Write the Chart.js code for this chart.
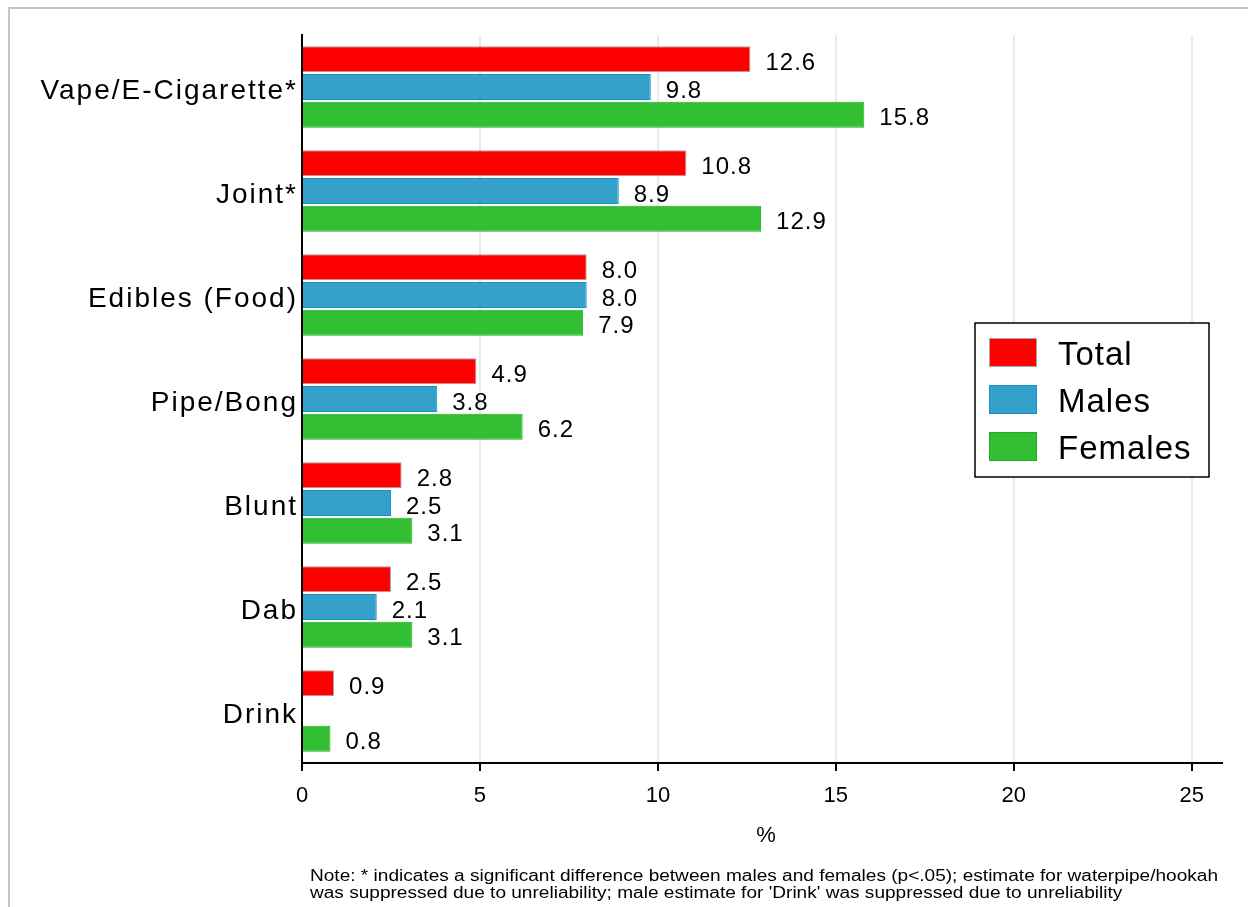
<!DOCTYPE html>
<html>
<head>
<meta charset="utf-8">
<script src="https://cdn.jsdelivr.net/npm/chart.js@4.4.1/dist/chart.umd.min.js"></script>
<style>
  html, body { margin: 0; padding: 0; background: #fff; }
  #wrap { position: relative; width: 1248px; height: 907px; }
  #frame { position: absolute; left: 8px; top: 7px; right: 0; bottom: 0;
           border-left: 2px solid #c4c4c4; border-top: 2px solid #c4c4c4; pointer-events: none; }
</style>
</head>
<body>
<div id="wrap">
  <canvas id="chart" width="1248" height="907"></canvas>
  <div id="frame"></div>
</div>
<script>
const categories = ['Vape/E-Cigarette*', 'Joint*', 'Edibles (Food)', 'Pipe/Bong', 'Blunt', 'Dab', 'Drink'];
const totalValues = [12.6, 10.8, 8.0, 4.9, 2.8, 2.5, 0.9];
const maleValues = [9.8, 8.9, 8.0, 3.8, 2.5, 2.1, null];
const femaleValues = [15.8, 12.9, 7.9, 6.2, 3.1, 3.1, 0.8];
const xTicks = [0, 5, 10, 15, 20, 25];
const noteLines = [
  "Note: * indicates a significant difference between males and females (p<.05); estimate for waterpipe/hookah",
  "was suppressed due to unreliability; male estimate for 'Drink' was suppressed due to unreliability"
];

const FONT = "'Liberation Sans', Arial, sans-serif";

// category labels, value labels, legend box, axis title and note
const extras = {
  id: 'extras',
  afterDatasetsDraw(chart) {
    const ctx = chart.ctx;
    const yScale = chart.scales.y;
    ctx.save();
    ctx.fillStyle = '#000';

    // category labels (spaced out a little like the original)
    ctx.font = '28px ' + FONT;
    ctx.letterSpacing = '2px';
    ctx.textAlign = 'right';
    ctx.textBaseline = 'middle';
    categories.forEach((c, i) => {
      ctx.fillText(c, 298, yScale.getPixelForValue(i) + 4);
    });

    // value labels
    ctx.font = '24px ' + FONT;
    ctx.letterSpacing = '1px';
    ctx.textAlign = 'left';
    chart.data.datasets.forEach((ds, i) => {
      chart.getDatasetMeta(i).data.forEach((bar, j) => {
        const v = ds.data[j];
        if (v == null) return;
        ctx.fillText(v.toFixed(1), bar.x + 15, bar.y + 4);
      });
    });

    // legend
    const lx = 975, ly = 323, lw = 234, lh = 154;
    ctx.fillStyle = '#fff';
    ctx.fillRect(lx, ly, lw, lh);
    ctx.strokeStyle = '#000';
    ctx.lineWidth = 1.5;
    ctx.strokeRect(lx, ly, lw, lh);
    ctx.font = '33px ' + FONT;
    ctx.letterSpacing = '1px';
    chart.data.datasets.forEach((ds, i) => {
      const y = 338 + i * 47;
      ctx.fillStyle = ds.backgroundColor;
      ctx.fillRect(989, y, 48, 29);
      ctx.strokeStyle = ds.borderColor;
      ctx.lineWidth = 1;
      ctx.strokeRect(989.5, y + 0.5, 47, 28);
      ctx.fillStyle = '#000';
      ctx.fillText(ds.label, 1058, y + 18);
    });

    // axis title
    ctx.letterSpacing = '0px';
    ctx.font = '22px ' + FONT;
    ctx.textAlign = 'center';
    ctx.fillText('%', 766, 836);

    // note, squeezed to the width of the original
    ctx.font = '16px ' + FONT;
    ctx.textAlign = 'left';
    const w0 = ctx.measureText(noteLines[0]).width;
    const sx = 908 / w0;
    noteLines.forEach((line, k) => {
      ctx.save();
      ctx.translate(310, 877 + k * 17);
      ctx.scale(sx, 1);
      ctx.fillText(line, 0, 0);
      ctx.restore();
    });
    ctx.restore();
  }
};

new Chart(document.getElementById('chart'), {
  type: 'bar',
  plugins: [extras],
  data: {
    labels: categories,
    datasets: [
      { label: 'Total', data: totalValues, backgroundColor: '#ff0000', borderColor: '#a8a8a8', borderWidth: 1 },
      { label: 'Males', data: maleValues, backgroundColor: '#33a1c9', borderColor: '#1b8fc2', borderWidth: 1 },
      { label: 'Females', data: femaleValues, backgroundColor: '#33bf33', borderColor: '#22aa22', borderWidth: 1 }
    ]
  },
  options: {
    indexAxis: 'y',
    responsive: false,
    animation: false,
    categoryPercentage: 0.8,
    barPercentage: 0.94,
    layout: { padding: { left: 0, top: 35, right: 26, bottom: 0 } },
    plugins: {
      legend: { display: false },
      tooltip: { enabled: false },
      title: { display: false }
    },
    scales: {
      x: {
        min: 0,
        max: 25.85,
        afterBuildTicks: s => { s.ticks = xTicks.map(v => ({ value: v })); },
        afterFit: s => { s.height = 144; },
        grid: {
          color: c => (c.tick && c.tick.value === 0) ? 'rgba(0,0,0,0)' : '#e3ebee',
          tickColor: '#000',
          lineWidth: 2,
          tickLength: 8
        },
        border: { color: '#000', width: 2 },
        ticks: { color: '#000', font: { size: 22, family: FONT }, padding: 12 }
      },
      y: {
        afterFit: s => { s.width = 302; },
        grid: { display: false },
        border: { color: '#000', width: 2 },
        ticks: { display: false }
      }
    }
  }
});
</script>
</body>
</html>
